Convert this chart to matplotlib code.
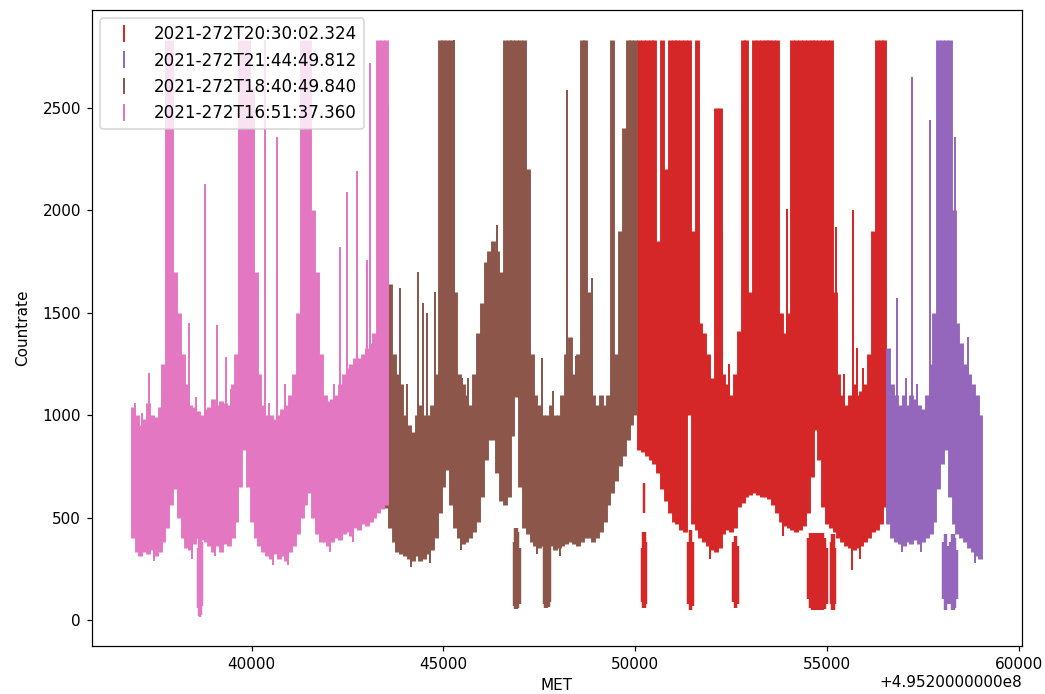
import numpy as np
import matplotlib
matplotlib.use("Agg")
import matplotlib.pyplot as plt

# MET offset of the light curve, times below are seconds after it
met0_label = "+4.9520000000e8"

# main body: lower / upper edge of the error bars, 100 s bins
pink_t = [36900, 37000, 37100, 37200, 37300, 37400, 37500, 37600, 37700, 37800,
          37900, 38000, 38100, 38200, 38300, 38400, 38500, 38600, 38700, 38800,
          38900, 39000, 39100, 39200, 39300, 39400, 39500, 39600, 39700, 39800,
          39900, 40000, 40100, 40200, 40300, 40400, 40500, 40600, 40700, 40800,
          40900, 41000, 41100, 41200, 41300, 41400, 41500, 41600, 41700, 41800,
          41900, 42000, 42100, 42200, 42300, 42400, 42500, 42600, 42700, 42800,
          42900, 43000, 43100, 43200, 43300, 43400, 43500]
pink_lo = [400, 330, 310, 330, 320, 340, 310, 330, 380, 450,
           560, 640, 500, 400, 350, 340, 370, 400, 390, 380,
           360, 330, 360, 330, 370, 360, 400, 480, 650, 830,
           650, 480, 400, 360, 330, 310, 300, 320, 300, 310,
           290, 330, 360, 420, 500, 560, 620, 500, 420, 380,
           380, 360, 380, 400, 390, 420, 430, 410, 450, 440,
           470, 460, 480, 500, 520, 540, 560]
pink_hi = [1040, 1000, 950, 980, 1060, 1000, 990, 1040, 1250, 2830,
           2830, 1700, 1500, 1300, 1150, 1050, 1040, 1020, 1000, 1030,
           1040, 1080, 1050, 1070, 1060, 1050, 1150, 1300, 2830, 2830,
           2830, 2600, 1700, 1200, 1050, 1000, 1000, 980, 1000, 1030,
           1050, 1100, 1200, 1500, 2830, 2830, 2830, 2000, 1700, 1300,
           1100, 1070, 1080, 1100, 1150, 1200, 1230, 1250, 1280, 1280,
           1300, 1330, 1350, 1400, 2830, 2830, 2830]

brown_t = [43500, 43600, 43700, 43800, 43900, 44000, 44100, 44200, 44300, 44400,
           44500, 44600, 44700, 44800, 44900, 45000, 45100, 45200, 45300, 45400,
           45500, 45600, 45700, 45800, 45900, 46000, 46100, 46200, 46300, 46400,
           46500, 46600, 46700, 46800, 46900, 47000, 47100, 47200, 47300, 47400,
           47500, 47600, 47700, 47800, 47900, 48000, 48100, 48200, 48300, 48400,
           48500, 48600, 48700, 48800, 48900, 49000, 49100, 49200, 49300, 49400,
           49500, 49600, 49700, 49800, 49900, 50000]
brown_lo = [545, 450, 380, 330, 320, 310, 300, 290, 310, 290,
            300, 320, 340, 400, 520, 650, 730, 560, 450, 400,
            370, 380, 400, 430, 480, 600, 780, 880, 880, 720,
            580, 560, 600, 900, 1090, 650, 450, 420, 380, 360,
            350, 360, 375, 360, 340, 350, 360, 370, 380, 370,
            360, 380, 400, 400, 380, 400, 430, 480, 560, 620,
            680, 750, 800, 880, 950, 1000]
brown_hi = [2510, 1640, 1300, 1200, 1150, 1000, 950, 920, 1000, 1050,
            1000, 1000, 1050, 1200, 2830, 2830, 2830, 2830, 1600, 1200,
            1150, 1100, 1050, 1200, 1400, 1550, 1750, 1800, 1850, 1800,
            1700, 2830, 2830, 2830, 2830, 2830, 2830, 2200, 1300, 1100,
            1050, 1000, 1000, 1050, 1000, 1000, 1100, 1300, 1380, 1200,
            1300, 2830, 2830, 1600, 1100, 1050, 1100, 1050, 1100, 2830,
            1300, 1900, 2400, 2830, 2830, 2830]

red_t = [50100, 50200, 50300, 50400, 50500, 50600, 50700, 50800, 50900, 51000,
         51100, 51200, 51300, 51400, 51500, 51600, 51700, 51800, 51900, 52000,
         52100, 52200, 52300, 52400, 52500, 52600, 52700, 52800, 52900, 53000,
         53100, 53200, 53300, 53400, 53500, 53600, 53700, 53800, 53900, 54000,
         54100, 54200, 54300, 54400, 54500, 54600, 54700, 54800, 54900, 55000,
         55100, 55200, 55300, 55400, 55500, 55600, 55700, 55800, 55900, 56000,
         56100, 56200, 56300, 56400, 56500]
red_lo = [830, 820, 800, 780, 760, 720, 640, 580, 520, 480,
          470, 440, 430, 1000, 470, 440, 400, 380, 360, 340,
          330, 350, 420, 440, 430, 450, 550, 570, 600, 610,
          620, 610, 600, 600, 590, 560, 520, 480, 460, 450,
          440, 430, 440, 460, 520, 700, 930, 780, 550, 470,
          450, 430, 400, 380, 360, 350, 340, 350, 360, 380,
          400, 430, 440, 470, 550]
red_hi = [2830, 2830, 2830, 2830, 2830, 1850, 2830, 2200, 2830, 2830,
          2830, 2830, 2830, 2830, 1900, 2830, 1450, 1400, 1300, 1180,
          2500, 2500, 1200, 1150, 1100, 1200, 1410, 2830, 2830, 1600,
          2830, 2830, 2830, 2830, 2830, 2830, 2830, 1500, 1400, 1500,
          2830, 2830, 2830, 2830, 2830, 2830, 2830, 2830, 2830, 2830,
          2830, 1600, 1200, 1100, 1050, 1100, 1150, 1100, 1120, 1150,
          1300, 1900, 2830, 2830, 2830]

purple_t = [56600, 56700, 56800, 56900, 57000, 57100, 57200, 57300, 57400, 57500,
            57600, 57700, 57800, 57900, 58000, 58100, 58200, 58300, 58400, 58500,
            58600, 58700, 58800, 58900, 58980]
purple_lo = [470, 400, 380, 370, 360, 380, 370, 390, 370, 380,
             400, 420, 480, 640, 760, 830, 600, 470, 420, 400,
             380, 350, 330, 310, 300]
purple_hi = [1330, 1150, 1100, 1050, 1100, 1050, 1100, 1080, 1050, 1030,
             1100, 1250, 1500, 2830, 2830, 2830, 2830, 2000, 1450, 1350,
             1250, 1200, 1150, 1100, 1000]

# low-rate dropouts
pink_dip_t = [38590, 38620, 38650, 38680, 38710]
pink_dip_lo = [60, 20, 15, 25, 70]
pink_dip_hi = [350, 420, 430, 420, 380]

brown_dip_t = [46830, 46870, 46910, 46950, 46990, 47620, 47660, 47700, 47740, 47780]
brown_dip_lo = [70, 55, 55, 60, 80, 80, 60, 60, 65, 90]
brown_dip_hi = [380, 450, 450, 430, 350, 420, 470, 470, 450, 380]

red_dip_t = [50170, 50210, 50250, 50290, 50230, 51380, 51420, 51460, 51500,
             52550, 52590, 52630, 52670, 54500, 54550, 54600, 54650, 54700,
             54750, 54800, 54850, 54900, 54950, 55000, 55100, 55140, 55180, 55220]
red_dip_lo = [90, 60, 60, 80, 520, 80, 50, 50, 70,
              90, 60, 60, 80, 100, 60, 50, 50, 50,
              50, 50, 50, 50, 55, 80, 80, 50, 50, 80]
red_dip_hi = [350, 430, 430, 380, 670, 380, 440, 440, 380,
              380, 410, 410, 360, 400, 425, 425, 425, 425,
              425, 425, 425, 425, 400, 350, 380, 420, 420, 350]

purple_dip_t = [58030, 58070, 58110, 58150, 58220, 58260, 58300, 58340, 58380]
purple_dip_lo = [100, 50, 50, 80, 80, 50, 50, 60, 100]
purple_dip_hi = [380, 420, 420, 360, 380, 420, 420, 400, 340]

# single bins sticking out of the body (up and down)
pink_spk_t = [37330, 38370, 38780, 39100, 39330, 40350, 40650, 40870, 42300, 42480,
              42750, 43000, 43080, 36950, 37150, 37650, 38550, 39450, 40450, 42150,
              37450, 38450, 39050, 40550, 40950, 42050, 42650]
pink_spk_lo = [800, 800, 800, 800, 800, 800, 800, 800, 800, 800,
               800, 800, 800, 800, 800, 800, 800, 800, 800, 800,
               290, 300, 310, 270, 270, 330, 380]
pink_spk_hi = [1205, 1450, 2130, 1440, 1285, 2830, 2360, 1150, 1820, 2090,
               2190, 1760, 2720, 1060, 1010, 1100, 1090, 1130, 1060, 1150,
               700, 700, 700, 700, 700, 700, 700]

brown_spk_t = [43870, 44335, 44460, 44570, 44780, 45275, 45480, 46390, 47560, 48220,
               48870, 44050, 45650, 47850, 48450, 44150, 44650, 45450, 47450, 48050]
brown_spk_lo = [800, 800, 800, 800, 800, 800, 800, 800, 800, 800,
                800, 800, 800, 800, 800, 260, 280, 340, 320, 310]
brown_spk_hi = [1620, 1700, 1550, 1500, 1600, 2830, 1180, 1930, 1280, 2590,
                1670, 1150, 1180, 1120, 1290, 700, 700, 700, 700, 700]

red_spk_t = [52250, 53950, 55240, 55680, 55780, 52450, 55450, 55950,
             51950, 53850, 55650, 55850]
red_spk_lo = [800, 800, 800, 800, 800, 800, 800, 800,
              300, 410, 245, 300]
red_spk_hi = [1900, 2005, 1920, 2000, 1330, 1250, 1200, 1230,
              700, 700, 700, 700]

purple_spk_t = [56820, 57220, 57690, 58330, 58670, 57050, 57350, 56950, 57450, 58850]
purple_spk_lo = [800, 800, 800, 800, 800, 800, 800, 330, 330, 280]
purple_spk_hi = [1570, 2650, 2440, 2360, 1380, 1180, 1150, 700, 700, 700]

labels = ["2021-272T20:30:02.324", "2021-272T21:44:49.812",
          "2021-272T18:40:49.840", "2021-272T16:51:37.360"]

fig = plt.figure(figsize=(9.5, 6.31), dpi=110)
ax = fig.add_axes([0.0878, 0.0692, 0.8900, 0.9164])


def bars(t, lo, hi, color, lw):
    t = np.asarray(t, dtype=float)
    lo = np.asarray(lo, dtype=float)
    hi = np.asarray(hi, dtype=float)
    return ax.errorbar(t, (lo + hi) / 2, yerr=(hi - lo) / 2, fmt='none',
                       ecolor=color, elinewidth=lw)


segs = [
    ('tab:red', red_t, red_lo, red_hi, red_dip_t, red_dip_lo, red_dip_hi,
     red_spk_t, red_spk_lo, red_spk_hi),
    ('tab:purple', purple_t, purple_lo, purple_hi, purple_dip_t, purple_dip_lo, purple_dip_hi,
     purple_spk_t, purple_spk_lo, purple_spk_hi),
    ('tab:brown', brown_t, brown_lo, brown_hi, brown_dip_t, brown_dip_lo, brown_dip_hi,
     brown_spk_t, brown_spk_lo, brown_spk_hi),
    ('tab:pink', pink_t, pink_lo, pink_hi, pink_dip_t, pink_dip_lo, pink_dip_hi,
     pink_spk_t, pink_spk_lo, pink_spk_hi),
]

handles = []
for c, t, lo, hi, dt, dlo, dhi, st, slo, shi in segs:
    bars(t, lo, hi, c, 3.2)
    bars(dt, dlo, dhi, c, 1.6)
    handles.append(bars(st, slo, shi, c, 1.3))

ax.set_xlim(35830, 60080)
ax.set_ylim(-127, 2979)
ax.set_xlabel("MET")
ax.set_ylabel("Countrate")
ax.yaxis.set_label_coords(-0.0667, 0.5)
ax.text(1.0, -0.046, met0_label, transform=ax.transAxes, ha='right', va='top')
ax.legend(handles, labels, loc='upper left', fontsize=11)

fig.savefig("out.png", dpi=110)
